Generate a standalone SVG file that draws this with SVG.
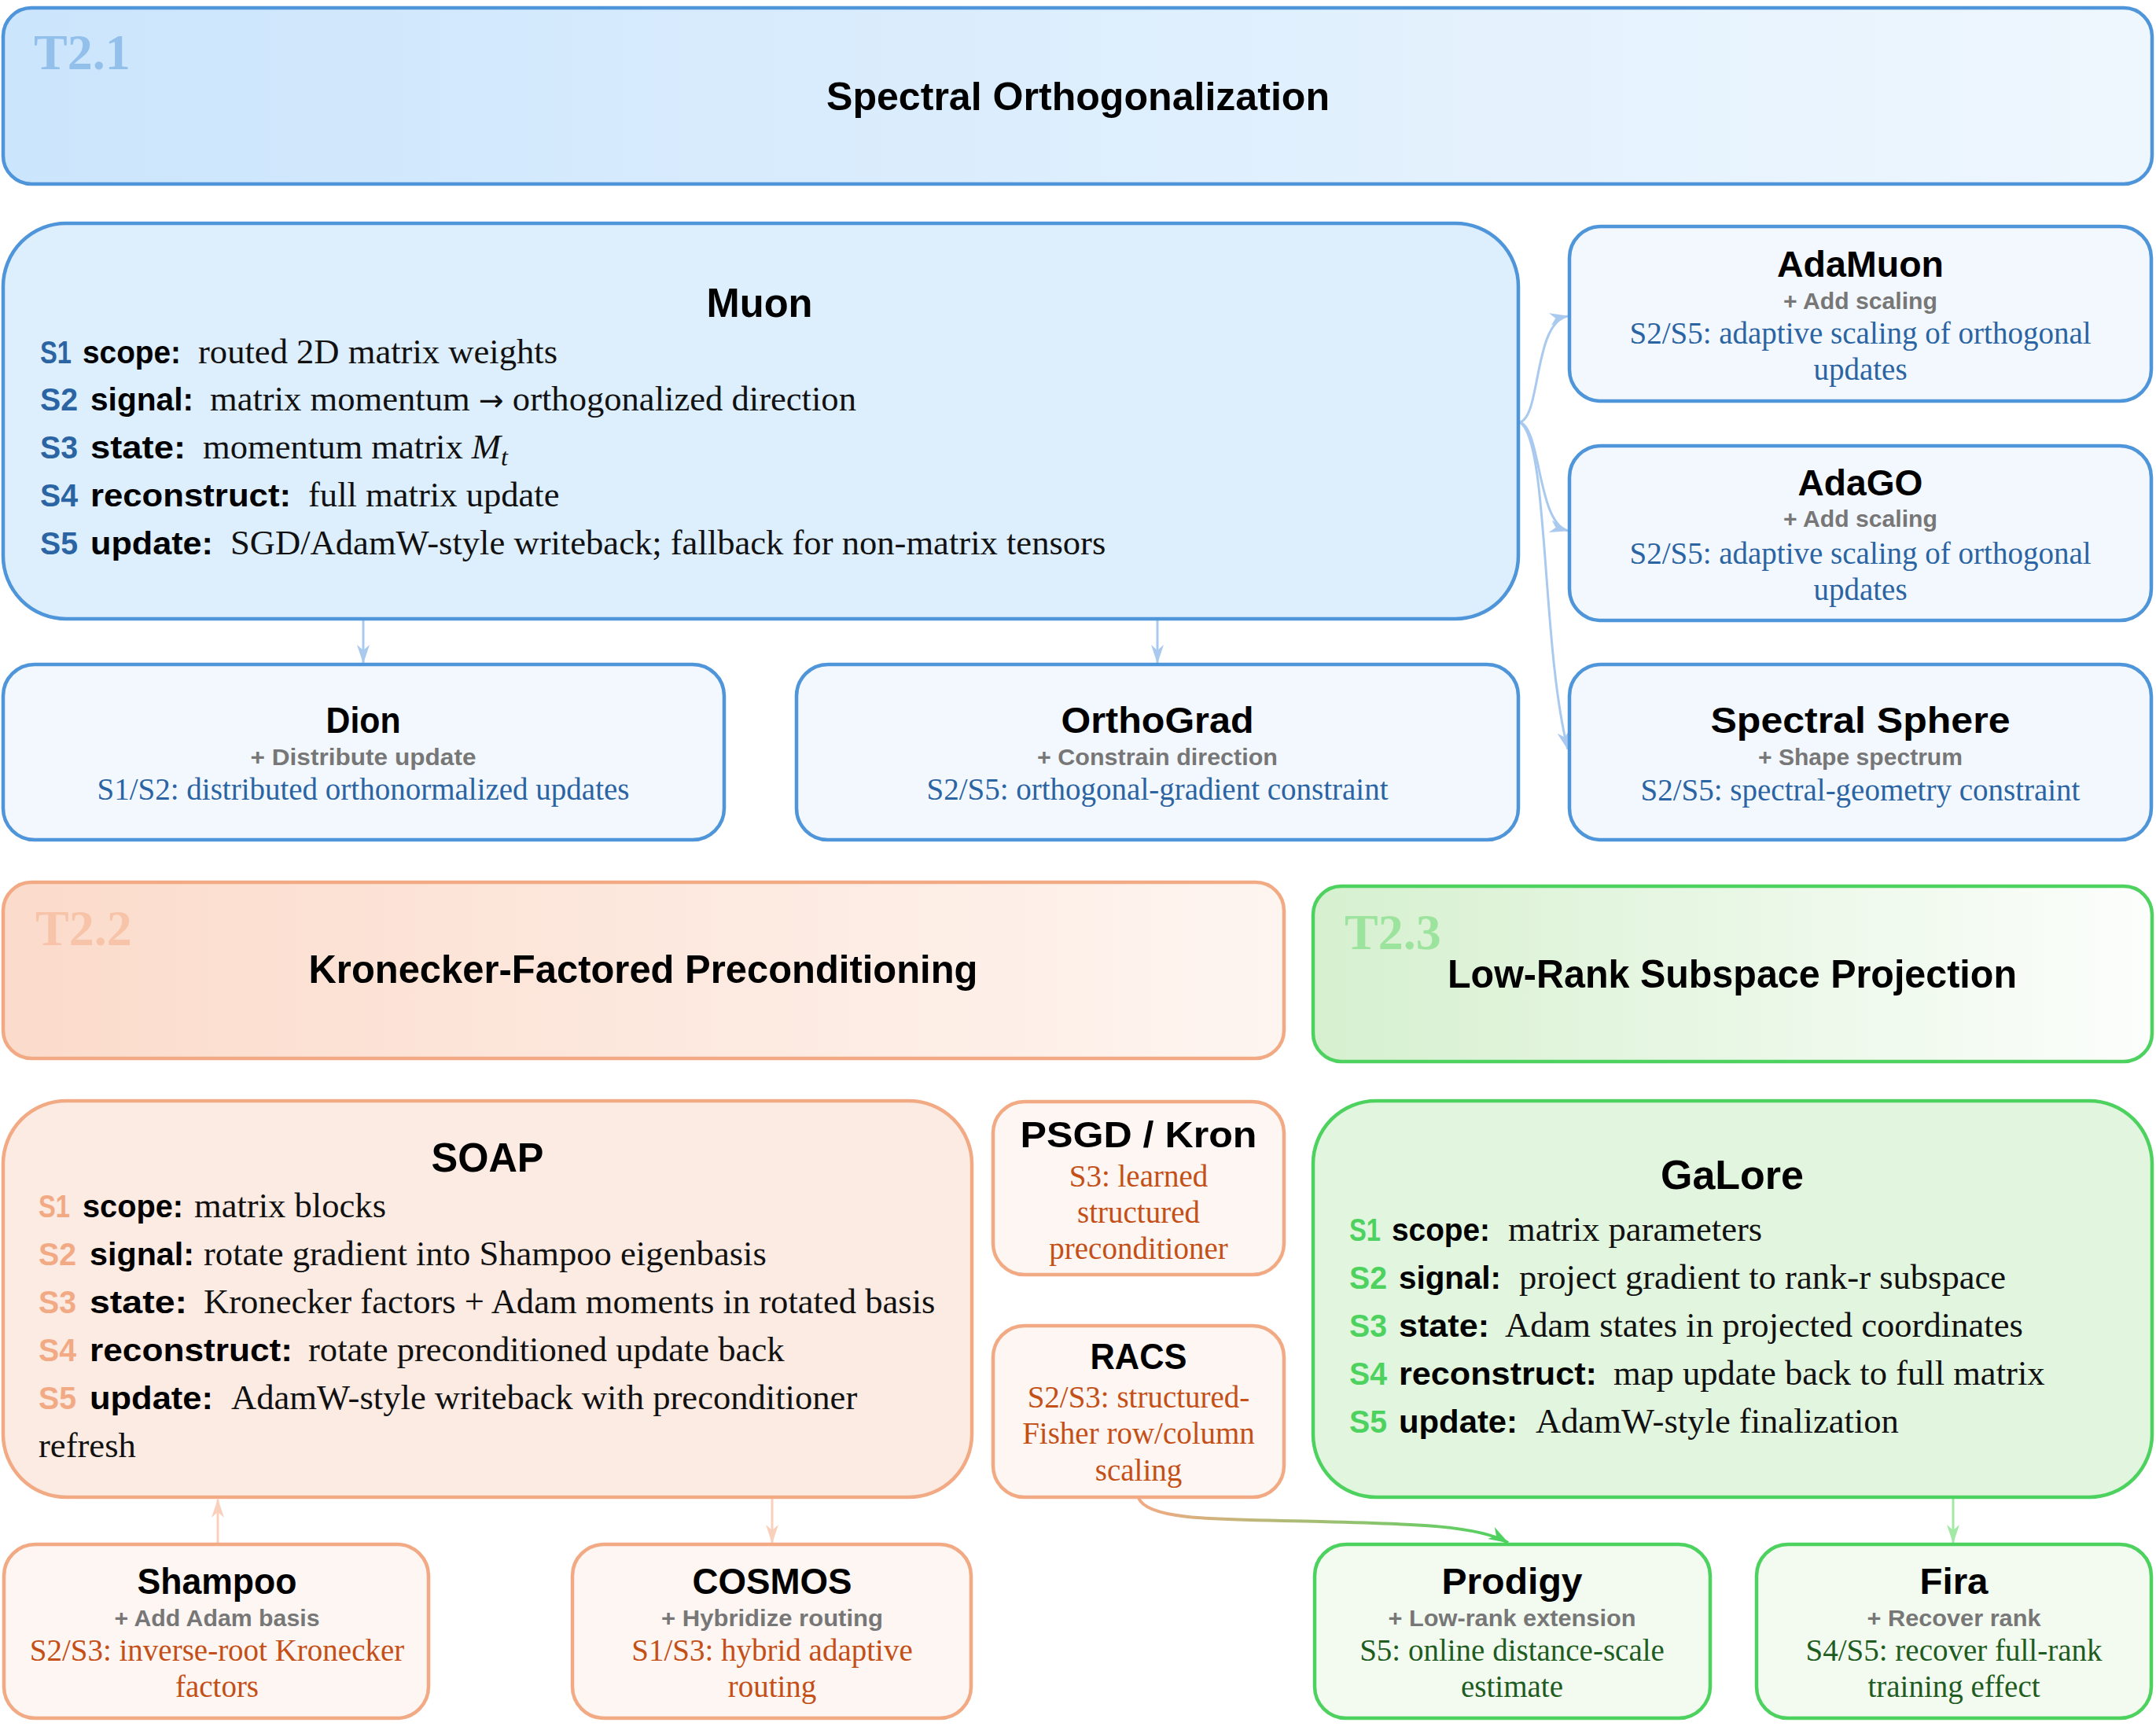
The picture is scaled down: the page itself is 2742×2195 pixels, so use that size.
<svg xmlns="http://www.w3.org/2000/svg" width="2742" height="2195" viewBox="0 0 2742 2195">
<defs>
<linearGradient id="gB" x1="0" y1="0" x2="1" y2="0"><stop offset="0" stop-color="#cbe5fc"/><stop offset="1" stop-color="#eff7fe"/></linearGradient>
<linearGradient id="gO" x1="0" y1="0" x2="1" y2="0"><stop offset="0" stop-color="#fbdbcb"/><stop offset="1" stop-color="#fef5f0"/></linearGradient>
<linearGradient id="gG" x1="0" y1="0" x2="1" y2="0"><stop offset="0" stop-color="#d6f0cf"/><stop offset="1" stop-color="#fcfefc"/></linearGradient>
<linearGradient id="gOG" gradientUnits="userSpaceOnUse" x1="1448" y1="0" x2="1920" y2="0"><stop offset="0" stop-color="#f2aa85"/><stop offset="1" stop-color="#4ed25f"/></linearGradient>
<marker id="mB" viewBox="0 0 24 16" refX="23" refY="8" markerWidth="24" markerHeight="16" markerUnits="userSpaceOnUse" orient="auto"><path d="M0,0 L24,8 L0,16 L7,8 Z" fill="#a9caee"/></marker>
<marker id="mO" viewBox="0 0 24 16" refX="23" refY="8" markerWidth="24" markerHeight="16" markerUnits="userSpaceOnUse" orient="auto"><path d="M0,0 L24,8 L0,16 L7,8 Z" fill="#f8d0bc"/></marker>
<marker id="mG" viewBox="0 0 24 16" refX="23" refY="8" markerWidth="24" markerHeight="16" markerUnits="userSpaceOnUse" orient="auto"><path d="M0,0 L24,8 L0,16 L7,8 Z" fill="#a3e9a6"/></marker>
<marker id="mG2" viewBox="0 0 24 16" refX="23" refY="8" markerWidth="26" markerHeight="18" markerUnits="userSpaceOnUse" orient="auto"><path d="M0,0 L24,8 L0,16 L7,8 Z" fill="#4ed25f"/></marker>
<style>
.bx{stroke-width:4.5}
.bS{stroke:#4f95da}.oS{stroke:#f2aa85}.gS{stroke:#4ed25f}
.tl{font-family:"Liberation Sans",Arial,sans-serif;font-weight:bold;fill:#000;text-anchor:middle}
.tag{font-family:"Liberation Serif","Times New Roman",serif;font-weight:bold;font-size:64px}
.sub{font-family:"Liberation Sans",Arial,sans-serif;font-weight:bold;font-size:30px;fill:#777;text-anchor:middle}
.bd{font-family:"Liberation Serif","Times New Roman",serif;font-size:39px;text-anchor:middle}
.bl{fill:#2b64a3}.or{fill:#c44f17}.gr{fill:#1f5c1f}
.lb{font-family:"Liberation Sans",Arial,sans-serif;font-weight:bold;font-size:40px}
.k{fill:#000}
.big{font-family:"Liberation Serif","Times New Roman",serif;font-size:44.6px;fill:#111}
.ar{font-family:"DejaVu Sans",sans-serif;font-size:38px}
.cn{fill:none;stroke-width:3}
</style>
</defs>
<rect width="2742" height="2195" fill="#fff"/>

<g id="connectors">
<path class="cn" d="M462,789 L462,843" stroke="#a9caee" marker-end="url(#mB)"/>
<path class="cn" d="M1472,789 L1472,843" stroke="#a9caee" marker-end="url(#mB)"/>
<path class="cn" d="M1933,537 C1960,530 1950,410 1994,402" stroke="#a9caee" marker-end="url(#mB)"/>
<path class="cn" d="M1933,537 C1960,545 1955,665 1994,675" stroke="#a9caee" marker-end="url(#mB)"/>
<path class="cn" d="M1933,537 C1970,560 1960,820 1994,953" stroke="#a9caee" marker-end="url(#mB)"/>
<path class="cn" d="M277,1963 L277,1907" stroke="#f8d0bc" marker-end="url(#mO)"/>
<path class="cn" d="M982,1905 L982,1962" stroke="#f8d0bc" marker-end="url(#mO)"/>
<path class="cn" d="M2484,1905 L2484,1962" stroke="#a3e9a6" marker-end="url(#mG)"/>
<path fill="none" stroke="url(#gOG)" stroke-width="4" d="M1448,1905 C1460,1935 1560,1932 1680,1935 S1880,1940 1918,1962" marker-end="url(#mG2)"/>
</g>

<g id="t21">
<rect class="bx bS" x="4" y="10" width="2733" height="224" rx="36" fill="url(#gB)"/>
<text class="tag" x="43" y="88" fill="#93c0eb">T2.1</text>
<text class="tl" x="1371" y="140" font-size="50" textLength="640" lengthAdjust="spacingAndGlyphs">Spectral Orthogonalization</text>
</g>

<g id="muon">
<rect class="bx bS" x="4" y="284" width="1927" height="503" rx="80" fill="#ddeefd"/>
<text class="tl" x="966" y="403" font-size="52" textLength="135" lengthAdjust="spacingAndGlyphs">Muon</text>
<text class="lb bl" x="51" y="462" textLength="40" lengthAdjust="spacingAndGlyphs">S1</text>
<text class="lb k" x="105" y="462" textLength="125" lengthAdjust="spacingAndGlyphs">scope:</text>
<text class="big" x="252" y="462">routed 2D matrix weights</text>
<text class="lb bl" x="51" y="522" textLength="48" lengthAdjust="spacingAndGlyphs">S2</text>
<text class="lb k" x="115" y="522" textLength="131" lengthAdjust="spacingAndGlyphs">signal:</text>
<text class="big" x="267" y="522">matrix momentum <tspan class="ar">→</tspan> orthogonalized direction</text>
<text class="lb bl" x="51" y="583" textLength="48" lengthAdjust="spacingAndGlyphs">S3</text>
<text class="lb k" x="115" y="583" textLength="121" lengthAdjust="spacingAndGlyphs">state:</text>
<text class="big" x="258" y="583">momentum matrix <tspan font-style="italic">M</tspan><tspan font-style="italic" font-size="32" dy="9">t</tspan></text>
<text class="lb bl" x="51" y="644" textLength="48" lengthAdjust="spacingAndGlyphs">S4</text>
<text class="lb k" x="115" y="644" textLength="255" lengthAdjust="spacingAndGlyphs">reconstruct:</text>
<text class="big" x="392" y="644">full matrix update</text>
<text class="lb bl" x="51" y="705" textLength="48" lengthAdjust="spacingAndGlyphs">S5</text>
<text class="lb k" x="115" y="705" textLength="156" lengthAdjust="spacingAndGlyphs">update:</text>
<text class="big" x="293" y="705">SGD/AdamW-style writeback; fallback for non-matrix tensors</text>
</g>

<g id="adamuon">
<rect class="bx bS" x="1996" y="288" width="740" height="222" rx="40" fill="#f3f8fe"/>
<text class="tl" x="2366" y="352" font-size="46" textLength="212" lengthAdjust="spacingAndGlyphs">AdaMuon</text>
<text class="sub" x="2366" y="393" textLength="196" lengthAdjust="spacingAndGlyphs">+ Add scaling</text>
<text class="bd bl" x="2366" y="437">S2/S5: adaptive scaling of orthogonal</text>
<text class="bd bl" x="2366" y="483">updates</text>
</g>

<g id="adago">
<rect class="bx bS" x="1996" y="567" width="740" height="222" rx="40" fill="#f3f8fe"/>
<text class="tl" x="2366" y="630" font-size="46" textLength="159" lengthAdjust="spacingAndGlyphs">AdaGO</text>
<text class="sub" x="2366" y="670" textLength="196" lengthAdjust="spacingAndGlyphs">+ Add scaling</text>
<text class="bd bl" x="2366" y="717">S2/S5: adaptive scaling of orthogonal</text>
<text class="bd bl" x="2366" y="763">updates</text>
</g>

<g id="dion">
<rect class="bx bS" x="4" y="845" width="917" height="223" rx="40" fill="#f3f8fe"/>
<text class="tl" x="462" y="932" font-size="46" textLength="95" lengthAdjust="spacingAndGlyphs">Dion</text>
<text class="sub" x="462" y="973" textLength="287" lengthAdjust="spacingAndGlyphs">+ Distribute update</text>
<text class="bd bl" x="462" y="1017">S1/S2: distributed orthonormalized updates</text>
</g>

<g id="orthograd">
<rect class="bx bS" x="1013" y="845" width="918" height="223" rx="40" fill="#f3f8fe"/>
<text class="tl" x="1472" y="932" font-size="46" textLength="245" lengthAdjust="spacingAndGlyphs">OrthoGrad</text>
<text class="sub" x="1472" y="973" textLength="306" lengthAdjust="spacingAndGlyphs">+ Constrain direction</text>
<text class="bd bl" x="1472" y="1017">S2/S5: orthogonal-gradient constraint</text>
</g>

<g id="spectralsphere">
<rect class="bx bS" x="1996" y="845" width="740" height="223" rx="40" fill="#f3f8fe"/>
<text class="tl" x="2366" y="932" font-size="46" textLength="381" lengthAdjust="spacingAndGlyphs">Spectral Sphere</text>
<text class="sub" x="2366" y="973" textLength="260" lengthAdjust="spacingAndGlyphs">+ Shape spectrum</text>
<text class="bd bl" x="2366" y="1018">S2/S5: spectral-geometry constraint</text>
</g>

<g id="t22">
<rect class="bx oS" x="4" y="1122" width="1629" height="224" rx="36" fill="url(#gO)"/>
<text class="tag" x="45" y="1202" fill="#f7c4a9">T2.2</text>
<text class="tl" x="818" y="1250" font-size="50" textLength="851" lengthAdjust="spacingAndGlyphs">Kronecker-Factored Preconditioning</text>
</g>

<g id="t23">
<rect class="bx gS" x="1670" y="1127" width="1067" height="223" rx="36" fill="url(#gG)"/>
<text class="tag" x="1710" y="1207" fill="#9ce49e">T2.3</text>
<text class="tl" x="2203" y="1256" font-size="50" textLength="724" lengthAdjust="spacingAndGlyphs">Low-Rank Subspace Projection</text>
</g>

<g id="soap">
<rect class="bx oS" x="4" y="1400" width="1232" height="504" rx="80" fill="#fcebe2"/>
<text class="tl" x="620" y="1490" font-size="52" textLength="143" lengthAdjust="spacingAndGlyphs">SOAP</text>
<text class="lb" fill="#f2aa85" x="49" y="1548" textLength="40" lengthAdjust="spacingAndGlyphs">S1</text>
<text class="lb k" x="105" y="1548" textLength="128" lengthAdjust="spacingAndGlyphs">scope:</text>
<text class="big" x="247" y="1548">matrix blocks</text>
<text class="lb" fill="#f2aa85" x="49" y="1609" textLength="48" lengthAdjust="spacingAndGlyphs">S2</text>
<text class="lb k" x="114" y="1609" textLength="133" lengthAdjust="spacingAndGlyphs">signal:</text>
<text class="big" x="259" y="1609">rotate gradient into Shampoo eigenbasis</text>
<text class="lb" fill="#f2aa85" x="49" y="1670" textLength="48" lengthAdjust="spacingAndGlyphs">S3</text>
<text class="lb k" x="114" y="1670" textLength="124" lengthAdjust="spacingAndGlyphs">state:</text>
<text class="big" x="259" y="1670">Kronecker factors + Adam moments in rotated basis</text>
<text class="lb" fill="#f2aa85" x="49" y="1731" textLength="48" lengthAdjust="spacingAndGlyphs">S4</text>
<text class="lb k" x="114" y="1731" textLength="258" lengthAdjust="spacingAndGlyphs">reconstruct:</text>
<text class="big" x="392" y="1731">rotate preconditioned update back</text>
<text class="lb" fill="#f2aa85" x="49" y="1792" textLength="48" lengthAdjust="spacingAndGlyphs">S5</text>
<text class="lb k" x="114" y="1792" textLength="157" lengthAdjust="spacingAndGlyphs">update:</text>
<text class="big" x="294" y="1792">AdamW-style writeback with preconditioner</text>
<text class="big" x="49" y="1853">refresh</text>
</g>

<g id="psgd">
<rect class="bx oS" x="1263" y="1401" width="370" height="220" rx="40" fill="#fdf6f2"/>
<text class="tl" x="1448" y="1459" font-size="46" textLength="301" lengthAdjust="spacingAndGlyphs">PSGD / Kron</text>
<text class="bd or" x="1448" y="1509">S3: learned</text>
<text class="bd or" x="1448" y="1555">structured</text>
<text class="bd or" x="1448" y="1601">preconditioner</text>
</g>

<g id="racs">
<rect class="bx oS" x="1263" y="1686" width="370" height="218" rx="40" fill="#fdf6f2"/>
<text class="tl" x="1448" y="1741" font-size="46" textLength="123" lengthAdjust="spacingAndGlyphs">RACS</text>
<text class="bd or" x="1448" y="1790">S2/S3: structured-</text>
<text class="bd or" x="1448" y="1836">Fisher row/column</text>
<text class="bd or" x="1448" y="1883">scaling</text>
</g>

<g id="galore">
<rect class="bx gS" x="1670" y="1400" width="1067" height="504" rx="80" fill="#e2f5de"/>
<text class="tl" x="2203" y="1512" font-size="52" textLength="182" lengthAdjust="spacingAndGlyphs">GaLore</text>
<text class="lb" fill="#4ed25f" x="1716" y="1578" textLength="40" lengthAdjust="spacingAndGlyphs">S1</text>
<text class="lb k" x="1770" y="1578" textLength="125" lengthAdjust="spacingAndGlyphs">scope:</text>
<text class="big" x="1918" y="1578">matrix parameters</text>
<text class="lb" fill="#4ed25f" x="1716" y="1639" textLength="48" lengthAdjust="spacingAndGlyphs">S2</text>
<text class="lb k" x="1779" y="1639" textLength="130" lengthAdjust="spacingAndGlyphs">signal:</text>
<text class="big" x="1932" y="1639">project gradient to rank-r subspace</text>
<text class="lb" fill="#4ed25f" x="1716" y="1700" textLength="48" lengthAdjust="spacingAndGlyphs">S3</text>
<text class="lb k" x="1779" y="1700" textLength="115" lengthAdjust="spacingAndGlyphs">state:</text>
<text class="big" x="1914" y="1700">Adam states in projected coordinates</text>
<text class="lb" fill="#4ed25f" x="1716" y="1761" textLength="48" lengthAdjust="spacingAndGlyphs">S4</text>
<text class="lb k" x="1779" y="1761" textLength="252" lengthAdjust="spacingAndGlyphs">reconstruct:</text>
<text class="big" x="2052" y="1761">map update back to full matrix</text>
<text class="lb" fill="#4ed25f" x="1716" y="1822" textLength="48" lengthAdjust="spacingAndGlyphs">S5</text>
<text class="lb k" x="1779" y="1822" textLength="151" lengthAdjust="spacingAndGlyphs">update:</text>
<text class="big" x="1953" y="1822">AdamW-style finalization</text>
</g>

<g id="shampoo">
<rect class="bx oS" x="5" y="1964" width="540" height="221" rx="40" fill="#fdf6f2"/>
<text class="tl" x="276" y="2027" font-size="46" textLength="203" lengthAdjust="spacingAndGlyphs">Shampoo</text>
<text class="sub" x="276" y="2068" textLength="261" lengthAdjust="spacingAndGlyphs">+ Add Adam basis</text>
<text class="bd or" x="276" y="2112">S2/S3: inverse-root Kronecker</text>
<text class="bd or" x="276" y="2158">factors</text>
</g>

<g id="cosmos">
<rect class="bx oS" x="728" y="1964" width="507" height="221" rx="40" fill="#fdf6f2"/>
<text class="tl" x="982" y="2027" font-size="46" textLength="203" lengthAdjust="spacingAndGlyphs">COSMOS</text>
<text class="sub" x="982" y="2068" textLength="282" lengthAdjust="spacingAndGlyphs">+ Hybridize routing</text>
<text class="bd or" x="982" y="2112">S1/S3: hybrid adaptive</text>
<text class="bd or" x="982" y="2158">routing</text>
</g>

<g id="prodigy">
<rect class="bx gS" x="1672" y="1964" width="503" height="221" rx="40" fill="#f3fbf1"/>
<text class="tl" x="1923" y="2027" font-size="46" textLength="179" lengthAdjust="spacingAndGlyphs">Prodigy</text>
<text class="sub" x="1923" y="2068" textLength="315" lengthAdjust="spacingAndGlyphs">+ Low-rank extension</text>
<text class="bd gr" x="1923" y="2112">S5: online distance-scale</text>
<text class="bd gr" x="1923" y="2158">estimate</text>
</g>

<g id="fira">
<rect class="bx gS" x="2234" y="1964" width="502" height="221" rx="40" fill="#f3fbf1"/>
<text class="tl" x="2485" y="2027" font-size="46" textLength="87" lengthAdjust="spacingAndGlyphs">Fira</text>
<text class="sub" x="2485" y="2068" textLength="221" lengthAdjust="spacingAndGlyphs">+ Recover rank</text>
<text class="bd gr" x="2485" y="2112">S4/S5: recover full-rank</text>
<text class="bd gr" x="2485" y="2158">training effect</text>
</g>
</svg>
